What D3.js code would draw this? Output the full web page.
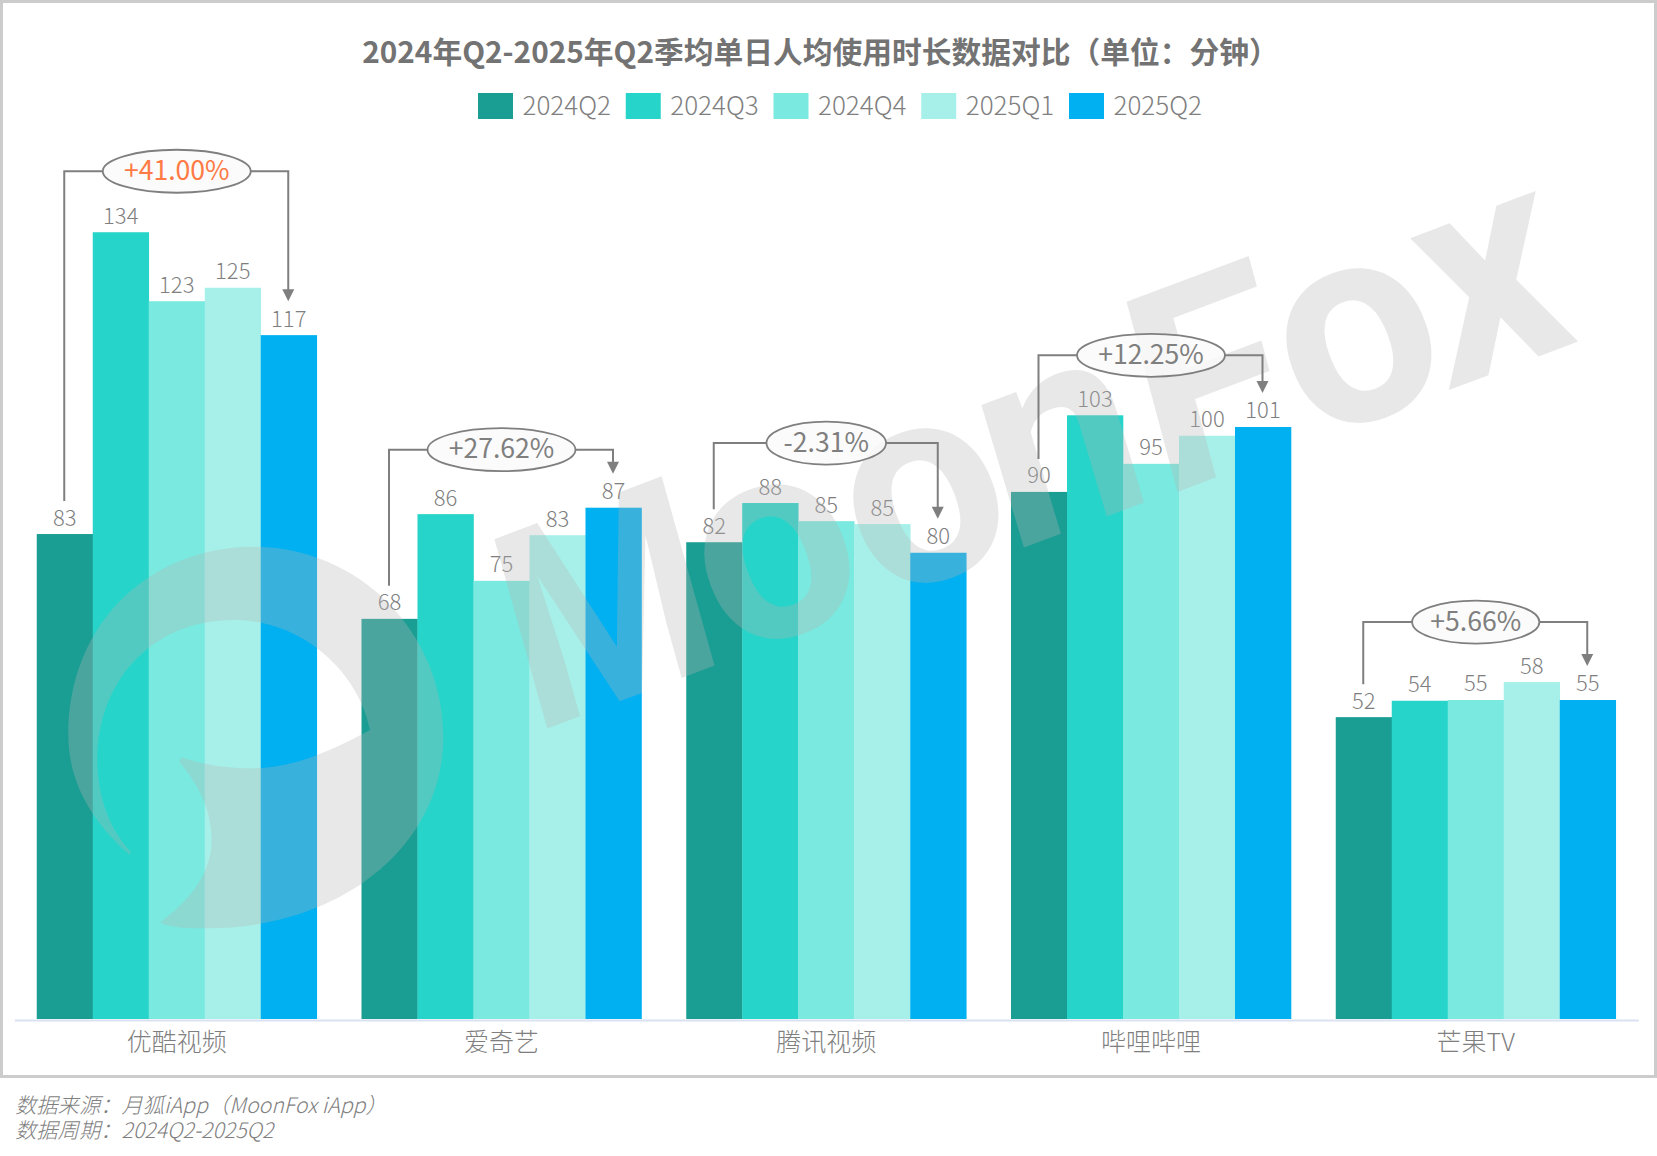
<![CDATA[<!DOCTYPE html>
<html lang="zh-CN"><head><meta charset="utf-8">
<script src="https://cdn.jsdelivr.net/npm/d3@7/dist/d3.min.js"></script>
<style>
html,body{margin:0;padding:0;background:#fff}
svg{display:block}
text{font-family:"Noto Sans CJK SC","Noto Sans",sans-serif}
</style></head><body>
<svg id="chart" width="1657" height="1156"></svg>
<script>
const titleText = "2024年Q2-2025年Q2季均单日人均使用时长数据对比（单位：分钟）";
const categories = ["优酷视频","爱奇艺","腾讯视频","哔哩哔哩","芒果TV"];
const seriesNames = ["2024Q2","2024Q3","2024Q4","2025Q1","2025Q2"];
const seriesColors = ["#1a9e94","#27d4c9","#7ae9e0","#a7f0e9","#00b0f0"];
const s2024Q2 = [82.9,68.4,81.5,90.1,51.6];
const s2024Q3 = [134.49,86.3,88.2,103.2,54.4];
const s2024Q4 = [122.7,74.9,85.1,94.9,54.53];
const s2025Q1 = [125.0,82.7,84.6,99.7,57.6];
const s2025Q2 = [116.9,87.4,79.7,101.2,54.53];
const seriesValues = [s2024Q2,s2024Q3,s2024Q4,s2025Q1,s2025Q2];
const changeLabels = ["+41.00%","+27.62%","-2.31%","+12.25%","+5.66%"];
const footerLines = ["数据来源：月狐iApp（MoonFox iApp）","数据周期：2024Q2-2025Q2"];
const watermarkLetters = ["M","o","o","n","F","o","x"];

const GREY = "#7f7f7f";
const svg = d3.select("#chart");

// frame
svg.append("rect").attr("x",1.5).attr("y",1.5).attr("width",1654).attr("height",1075)
  .attr("fill","#fff").attr("stroke","#cccccc").attr("stroke-width",3);

const x0 = d3.scaleBand().domain(categories).range([14.25,1638.25]).paddingInner(44.75/324.75).paddingOuter(22.5/324.75);
const x1 = d3.scaleBand().domain(seriesNames).range([0,x0.bandwidth()]);
const y = d3.scaleLinear().domain([0,150]).range([1019,1019-150*5.85]);
const fmt = d3.format(".0f");

// title
svg.append("text").attr("x",820.5).attr("y",63).attr("text-anchor","middle")
  .attr("font-size",29.75).attr("font-weight",700).attr("fill","#737373").text(titleText);

// legend
const legendX = d3.scalePoint().domain(seriesNames).range([478,1069]);
const lg = svg.append("g").selectAll("g").data(seriesNames).join("g")
  .attr("transform",d=>`translate(${legendX(d)},93)`);
lg.append("rect").attr("width",35).attr("height",26).attr("fill",(d,i)=>seriesColors[i]);
lg.append("text").attr("x",44.5).attr("y",22).attr("font-size",26).attr("font-weight",300)
  .attr("fill",GREY).text(d=>d);

// bars
const groups = svg.append("g").selectAll("g").data(categories).join("g")
  .attr("transform",d=>`translate(${x0(d)},0)`);
const cells = groups.selectAll("g").data((c,ci)=>seriesNames.map((s,si)=>({s,si,v:seriesValues[si][ci]})))
  .join("g");
cells.append("rect").attr("x",d=>x1(d.s)).attr("y",d=>y(d.v))
  .attr("width",x1.bandwidth()+0.3).attr("height",d=>y(0)-y(d.v)).attr("fill",d=>seriesColors[d.si]);
cells.append("text").attr("x",d=>x1(d.s)+x1.bandwidth()/2).attr("y",d=>y(d.v)-8.5)
  .attr("text-anchor","middle").attr("font-size",22).attr("font-weight",300)
  .attr("fill",GREY).text(d=>fmt(d.v));

// axis
const axis = svg.append("g").attr("transform",`translate(0,${y(0)+1})`)
  .call(d3.axisBottom(x0).tickSize(0).tickSizeOuter(0));
axis.select(".domain").attr("stroke","#d9e1f2").attr("stroke-width",2);
axis.selectAll("text").attr("y",31).attr("dy",0).attr("font-size",25).attr("font-weight",300)
  .attr("fill",GREY).attr("font-family",'"Noto Sans CJK SC"');

// watermark
const WM = "rgba(180,180,180,0.31)";
const wm = svg.append("g").attr("class","watermark");
wm.append("path").attr("fill",WM).attr("transform","translate(40,520) scale(0.3333)")
  .attr("d","M270 1005C170 920 85 800 85 645C85 300 340 80 640 80C960 80 1210 340 1210 650C1210 980 900 1225 500 1225C450 1225 400 1225 360 1208C450 1140 515 1060 515 960C515 860 470 790 418 725L425 712C490 735 560 745 640 745C760 745 880 690 990 630C960 470 800 300 580 300C340 300 172 480 172 720C172 830 210 930 272 995Z");
// x, y, horizontal scale, vertical scale, skew
const wmPlace = [[631,697,0.85,0.98,-5],[803,631,1,1,0],[952,575,1,1,0],[1084,525,1,1,-4],[1233,471,1,0.98,-5.6],[1385,415,1,1,0],[1513,366,1,1.05,-5.6]];
wm.selectAll("text").data(watermarkLetters).join("text")
  .attr("transform",(d,i)=>`translate(${wmPlace[i][0]},${wmPlace[i][1]}) rotate(-20.6) skewX(${wmPlace[i][4]}) scale(${wmPlace[i][2]},${wmPlace[i][3]})`)
  .attr("text-anchor","middle").attr("font-size",281).attr("font-weight",700)
  .style("font-family","Roboto").attr("fill",WM).text(d=>d);

// change brackets
const bracketGaps = [61,58,60,60,60];
const brackets = svg.append("g").selectAll("g").data(categories).join("g");
brackets.each(function(c,i){
  const g = d3.select(this);
  const vals = seriesValues.map(s=>s[i]);
  const cx = x0(c)+x0.bandwidth()/2;
  const lx = x0(c)+x1(seriesNames[0])+x1.bandwidth()/2-0.5;
  const rx = x0(c)+x1(seriesNames[4])+x1.bandwidth()/2-0.5;
  const top = y(d3.max(vals))-bracketGaps[i];
  const t = g.append("text").attr("x",cx).attr("y",top+8.6).attr("text-anchor","middle")
    .attr("font-size",26.6).attr("font-weight",400).attr("fill",i===0?"#ff7a45":GREY).text(changeLabels[i]);
  const w = t.node().getComputedTextLength();
  const erx = w/2*1.4;
  g.insert("ellipse","text").attr("cx",cx).attr("cy",top).attr("rx",erx).attr("ry",21.5)
    .attr("fill","rgba(250,250,250,0.8)").attr("stroke",GREY).attr("stroke-width",1.8);
  const tip = y(vals[4])-34;
  g.insert("path","ellipse").attr("fill","none").attr("stroke",GREY).attr("stroke-width",2)
    .attr("d",`M${lx},${y(vals[0])-33}V${top}H${cx-erx}M${cx+erx},${top}H${rx}V${tip-8}`);
  g.insert("path","ellipse").attr("fill",GREY)
    .attr("d",`M${rx-6},${tip-12}H${rx+6}L${rx},${tip}Z`);
});

// footer: one text block, two lines
const ft = svg.append("text").attr("font-size",21.3).attr("font-weight",300)
  .attr("font-style","italic").attr("fill",GREY);
ft.selectAll("tspan").data(footerLines).join("tspan")
  .attr("x",15).attr("y",(d,i)=>1113+i*25).text(d=>d);
</script></body></html>]]>
